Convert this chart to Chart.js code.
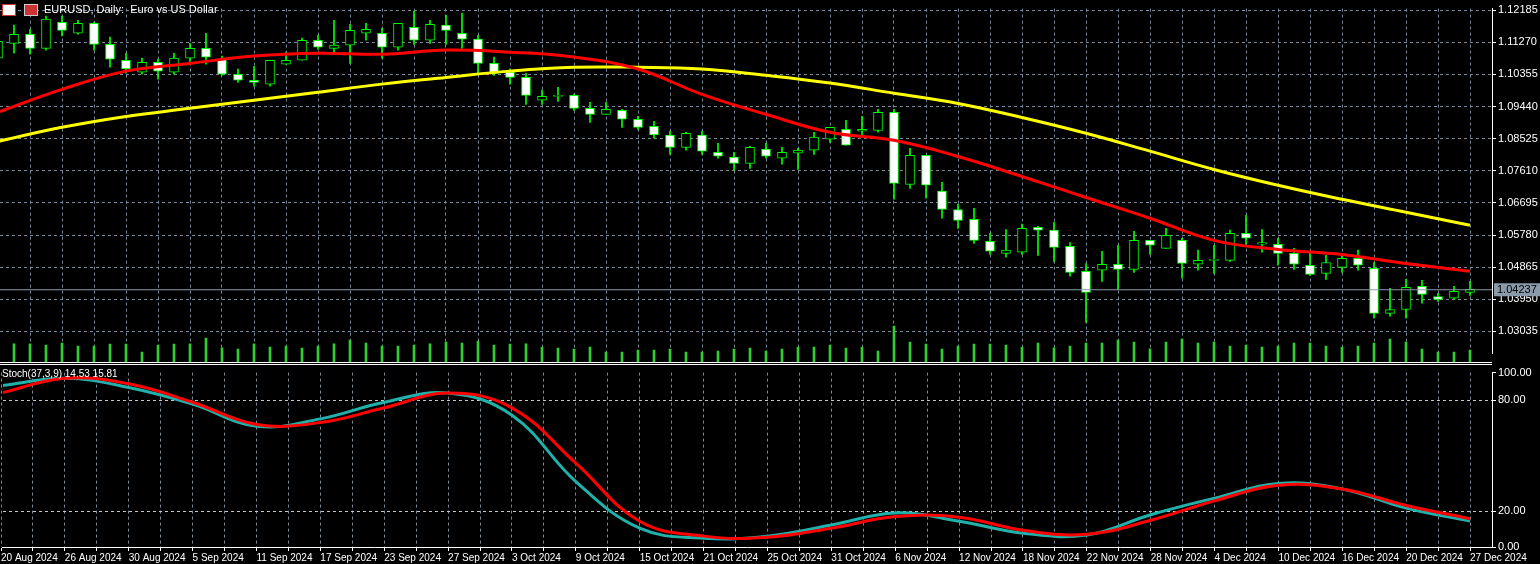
<!DOCTYPE html>
<html>
<head>
<meta charset="utf-8">
<script src="https://cdn.jsdelivr.net/npm/chart.js@4.4.1/dist/chart.umd.min.js"></script>
<style>
body{margin:0;background:#000;width:1540px;height:564px;overflow:hidden;position:relative;font-family:"Liberation Sans",sans-serif}
canvas{position:absolute;left:0}
#main{top:0}
#stoch{top:364px}
.sep{position:absolute;left:0;width:1492px;height:1px;background:#fff}
.txt{position:absolute;color:#fff;font-size:11px;white-space:nowrap}
.ico{position:absolute;top:4px;width:12px;height:10px;border:1px solid #ccc;background:#c33}
</style>
</head>
<body>
<canvas id="main" width="1540" height="362"></canvas>
<canvas id="stoch" width="1540" height="200"></canvas>
<div class="sep" style="top:362px"></div>
<div class="sep" style="top:364px"></div>
<div class="ico" style="left:2px;background:#fff;border-color:#c33"></div>
<div class="ico" style="left:24px"></div>
<div class="txt" style="left:44px;top:3px">EURUSD, Daily:&nbsp; Euro vs US Dollar</div>
<div class="txt" style="left:2px;top:368px;font-size:10px">Stoch(37,3,9) 14.53 15.81</div>
<script>
const dateLabels=["20 Aug 2024","26 Aug 2024","30 Aug 2024","5 Sep 2024","11 Sep 2024","17 Sep 2024","23 Sep 2024","27 Sep 2024","3 Oct 2024","9 Oct 2024","15 Oct 2024","21 Oct 2024","25 Oct 2024","31 Oct 2024","6 Nov 2024","12 Nov 2024","18 Nov 2024","22 Nov 2024","28 Nov 2024","4 Dec 2024","10 Dec 2024","16 Dec 2024","20 Dec 2024","27 Dec 2024"];
const priceTicks=[1.12185,1.11270,1.10355,1.09440,1.08525,1.07610,1.06695,1.05780,1.04865,1.03950,1.03035];
const opens=[1.1082,1.1124,1.1150,1.1110,1.1184,1.1153,1.1181,1.1121,1.1076,1.1042,1.1070,1.1042,1.1082,1.1110,1.1079,1.1036,1.1019,1.1008,1.1065,1.1076,1.1133,1.1110,1.1119,1.1153,1.1153,1.1113,1.1170,1.1133,1.1176,1.1153,1.1136,1.1067,1.1042,1.1027,1.0962,1.0973,1.0976,1.0939,1.0922,1.0933,1.0908,1.0888,1.0863,1.0828,1.0863,1.0814,1.0800,1.0782,1.0823,1.0797,1.0811,1.0820,1.0851,1.0879,1.0874,1.0876,1.0928,1.0722,1.0805,1.0703,1.0651,1.0623,1.0560,1.0526,1.0529,1.0600,1.0592,1.0546,1.0475,1.0478,1.0495,1.0480,1.0563,1.0540,1.0563,1.0495,1.0506,1.0506,1.0583,1.0552,1.0552,1.0526,1.0492,1.0469,1.0486,1.0512,1.0483,1.0355,1.0366,1.0432,1.0403,1.0398,1.0415];
const highs=[1.1136,1.1176,1.1164,1.1202,1.1202,1.1190,1.1184,1.1142,1.1096,1.1082,1.1079,1.1096,1.1124,1.1153,1.1088,1.1051,1.1059,1.1076,1.1099,1.1139,1.1147,1.1190,1.1178,1.1181,1.1167,1.1181,1.1216,1.1190,1.1204,1.1210,1.1147,1.1085,1.1051,1.1039,1.0991,1.0999,1.0979,1.0956,1.0956,1.0936,1.0916,1.0902,1.0874,1.0871,1.0874,1.0839,1.0814,1.0831,1.0839,1.0828,1.0825,1.0871,1.0885,1.0905,1.0916,1.0936,1.0936,1.0825,1.0805,1.0728,1.0666,1.0654,1.0583,1.0594,1.0609,1.0603,1.0614,1.0557,1.0497,1.0532,1.0549,1.0589,1.0563,1.0597,1.0569,1.0535,1.0549,1.0592,1.0634,1.0594,1.0569,1.0540,1.0532,1.0520,1.0520,1.0535,1.0500,1.0426,1.0452,1.0449,1.0412,1.0432,1.0446];
const lows=[1.1073,1.1096,1.1093,1.1105,1.1145,1.1150,1.1105,1.1056,1.1039,1.1036,1.1022,1.1036,1.1073,1.1065,1.1033,1.1013,1.1002,1.1002,1.1065,1.1076,1.1107,1.1096,1.1067,1.1133,1.1082,1.1105,1.1121,1.1124,1.1121,1.1110,1.1039,1.1033,1.1008,1.0950,1.0950,1.0959,1.0933,1.0899,1.0922,1.0885,1.0879,1.0854,1.0808,1.0820,1.0808,1.0797,1.0762,1.0768,1.0797,1.0780,1.0765,1.0808,1.0842,1.0834,1.0859,1.0871,1.0680,1.0711,1.0683,1.0626,1.0597,1.0554,1.0523,1.0515,1.0523,1.0520,1.0503,1.0461,1.0329,1.0446,1.0423,1.0472,1.0523,1.0540,1.0455,1.0478,1.0469,1.0503,1.0552,1.0529,1.0492,1.0480,1.0463,1.0452,1.0472,1.0478,1.0341,1.0347,1.0341,1.0384,1.0389,1.0395,1.0406];
const closes=[1.1130,1.1150,1.1110,1.1193,1.1161,1.1181,1.1121,1.1079,1.1051,1.1070,1.1045,1.1082,1.1110,1.1085,1.1036,1.1019,1.1013,1.1076,1.1076,1.1133,1.1113,1.1119,1.1161,1.1164,1.1113,1.1181,1.1133,1.1178,1.1161,1.1136,1.1067,1.1039,1.1027,1.0976,1.0973,1.0976,1.0939,1.0922,1.0936,1.0908,1.0885,1.0863,1.0828,1.0868,1.0817,1.0803,1.0782,1.0828,1.0803,1.0814,1.0820,1.0857,1.0885,1.0834,1.0879,1.0928,1.0725,1.0805,1.0720,1.0651,1.0620,1.0563,1.0532,1.0535,1.0597,1.0592,1.0543,1.0472,1.0415,1.0495,1.0480,1.0563,1.0549,1.0577,1.0497,1.0506,1.0509,1.0583,1.0569,1.0557,1.0526,1.0495,1.0466,1.0500,1.0512,1.0492,1.0355,1.0366,1.0429,1.0409,1.0395,1.0418,1.04237];
const volumes=[50,59,59,55,61,52,52,58,58,34,55,58,59,76,47,43,59,49,52,46,52,59,70,61,52,52,55,59,64,61,67,55,58,59,49,46,43,49,34,34,40,40,43,34,34,37,43,46,37,43,49,49,55,46,49,37,112,64,58,43,52,58,58,55,49,61,47,52,61,61,70,64,44,64,73,61,64,52,55,49,52,61,61,52,49,52,61,73,64,43,34,34,40];
// sampled every 4 bars
const sampleBars=[0,4,8,12,16,20,24,28,32,36,40,44,48,52,56,60,64,68,72,76,80,84,88,92];
const maRed=[1.0928,1.0993,1.1045,1.1067,1.1088,1.1096,1.1093,1.1105,1.1099,1.1085,1.1051,1.0979,1.0922,1.0871,1.0848,1.0802,1.0745,1.0685,1.0626,1.0563,1.0537,1.0523,1.0497,1.0475];
const maYellow=[1.0845,1.0885,1.0916,1.0939,1.0962,1.0985,1.1008,1.1027,1.1045,1.1056,1.1056,1.1051,1.1033,1.1011,1.0982,1.0953,1.0913,1.0868,1.0817,1.0765,1.0720,1.0680,1.0643,1.0606];
const stochMain=[88,92,87,78,66,70,79,84,72,36,10.7,5.3,6.4,12.4,19,14.5,8,7,18,27,35,32,21.6,14.53];
const stochSignal=[84,92,89,79,67,68,76,84,76,46,14.5,6.4,5.8,10.7,17,16.7,9.6,7.4,15,25.5,34,32,23,15.81];

const GRID="#7a8898";
const FONT={family:"Liberation Sans",size:11};
const DFONT={family:"Liberation Sans",size:10};
const XMIN=0.125,XMAX=93.375;
const STOCH_MIN=0.5,STOCH_MAX=95.1;
const gridTicks=[];for(let i=0;i<=92;i+=2)gridTicks.push(i);
const idx=opens.map((_,i)=>i);
const up=i=>closes[i]>=opens[i];

function xAxis(showLabels){
  return {type:"linear",min:XMIN,max:XMAX,offset:false,
    afterBuildTicks:s=>{s.ticks=gridTicks.map(v=>({value:v}));},
    grid:{color:GRID,drawTicks:showLabels,tickLength:4,tickColor:"#fff",offset:false},
    border:{display:showLabels,color:"#fff",dash:[3,3]},
    ticks:{display:showLabels,color:"#fff",font:DFONT,maxRotation:0,autoSkip:false,align:"start",padding:1,
      callback:v=>v%4===0?dateLabels[v/4]:""},
    afterFit:s=>{s.height=showLabels?17:0;}};
}

const priceLine={id:"priceLine",afterDraw(c){
  const y=c.scales.y.getPixelForValue(closes[closes.length-1]);
  const ctx=c.ctx,a=c.chartArea;
  ctx.save();
  ctx.strokeStyle="#8a9aaa";ctx.lineWidth=1;
  ctx.beginPath();ctx.moveTo(a.left,y+0.5);ctx.lineTo(a.right,y+0.5);ctx.stroke();
  ctx.fillStyle="#8a9aaa";ctx.fillRect(a.right+2,y-6,46,13);
  ctx.fillStyle="#000";ctx.font="11px Liberation Sans";ctx.textBaseline="middle";
  ctx.fillText(closes[closes.length-1].toFixed(5),a.right+5,y+1);
  ctx.restore();
}};

new Chart(document.getElementById("main"),{
  type:"bar",
  data:{datasets:[
    {type:"line",data:sampleBars.map((b,k)=>({x:b,y:maRed[k]})),borderColor:"#ff0000",borderWidth:3,pointRadius:0,tension:0.4,order:1},
    {type:"line",data:sampleBars.map((b,k)=>({x:b,y:maYellow[k]})),borderColor:"#ffff00",borderWidth:3,pointRadius:0,tension:0.4,order:1},
    {data:idx.map(i=>({x:i,y:[lows[i],highs[i]]})),backgroundColor:"#00ff00",barThickness:1,grouped:false,order:3},
    {data:idx.map(i=>({x:i,y:[opens[i],closes[i]]})),backgroundColor:idx.map(i=>up(i)?"#000":"#fff"),
      borderColor:"#00ff00",borderWidth:1,borderSkipped:false,barThickness:9,grouped:false,order:2,minBarLength:1},
    {data:idx.map(i=>({x:i,y:volumes[i]})),yAxisID:"vol",backgroundColor:"#32cd32",barThickness:2,grouped:false,order:4,base:0,
      clip:{left:0,top:0,right:0,bottom:12}}
  ]},
  options:{responsive:false,animation:false,
    plugins:{legend:{display:false},tooltip:{enabled:false}},
    scales:{
      x:xAxis(false),
      y:{position:"right",min:1.02410,max:1.12231,
        afterBuildTicks:s=>{s.ticks=priceTicks.map(v=>({value:v}));},
        grid:{color:GRID,drawTicks:true,tickLength:4,tickColor:"#fff"},
        border:{color:"#fff",dash:[3,3]},
        ticks:{color:"#fff",font:FONT,padding:2,callback:v=>v.toFixed(5)},
        afterFit:s=>{s.width=48;}},
      vol:{display:false,min:30,max:1064}
    }},
  plugins:[priceLine]
});

new Chart(document.getElementById("stoch"),{
  type:"line",
  data:{datasets:[
    {data:sampleBars.map((b,k)=>({x:b,y:stochSignal[k]})),borderColor:"#ff0000",borderWidth:3,pointRadius:0,tension:0.4},
    {data:sampleBars.map((b,k)=>({x:b,y:stochMain[k]})),borderColor:"#20b2aa",borderWidth:3,pointRadius:0,tension:0.4}
  ]},
  options:{responsive:false,animation:false,
    plugins:{legend:{display:false},tooltip:{enabled:false}},
    scales:{
      x:xAxis(true),
      y:{position:"right",min:STOCH_MIN,max:STOCH_MAX,
        afterBuildTicks:s=>{s.ticks=[STOCH_MIN,20,80,STOCH_MAX].map(v=>({value:v}));},
        grid:{color:c=>(c.tick.value===20||c.tick.value===80)?"#c8c8c8":"rgba(0,0,0,0)",drawTicks:true,tickLength:4,tickColor:"#fff"},
        border:{color:"#fff",dash:[3,3]},
        ticks:{color:"#fff",font:FONT,padding:2,
          callback:v=>(v===STOCH_MAX?100:v===STOCH_MIN?0:v).toFixed(2)},
        afterFit:s=>{s.width=48;}}
    }}
});
</script>
</body>
</html>
